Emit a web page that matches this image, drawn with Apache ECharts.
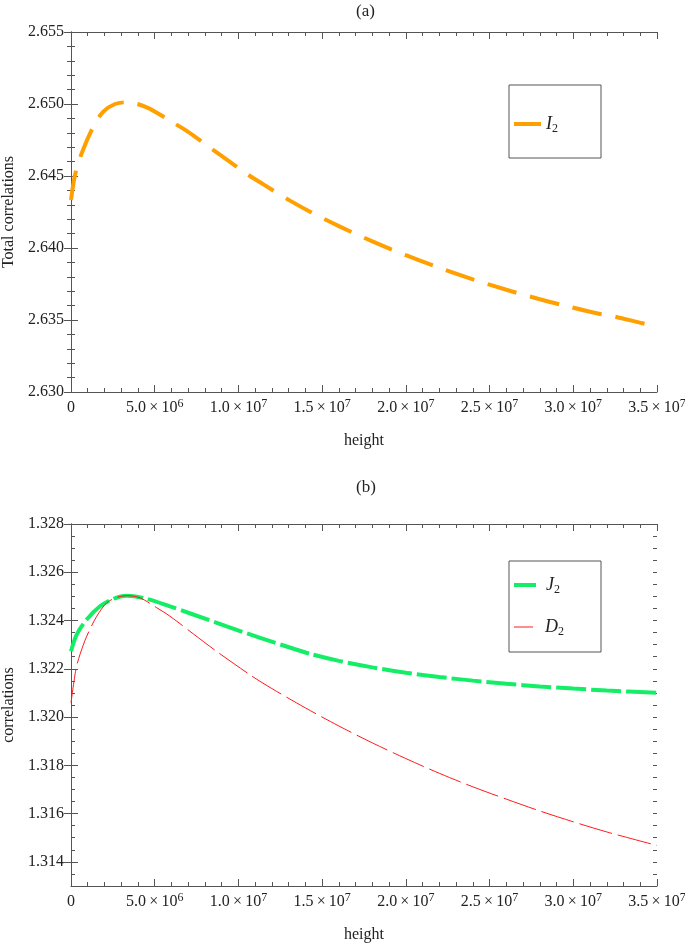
<!DOCTYPE html>
<html>
<head>
<meta charset="utf-8">
<script src="https://cdn.jsdelivr.net/npm/echarts@6/dist/echarts.min.js"></script>
<style>
    html, body { margin: 0; padding: 0; background: #fff; }
    #chart { width: 685px; height: 943px; }
</style>
</head>
<body>
<div id="chart"></div>
<script>
// (a) total correlations I2 against height
const heightI2 = [0, 0.24e6, 0.64e6, 1.33e6, 1.93e6, 2.63e6, 3.33e6, 4.52e6, 6.11e6, 6.91e6,
    8.41e6, 9.2e6, 10.69e6, 11.49e6, 13.08e6, 14.28e6, 16e6, 18e6, 20e6, 22e6,
    24e6, 26e6, 28e6, 29.6e6, 31.4e6, 32.3e6, 34.15e6, 35e6];
const valuesI2 = [2.64333, 2.64507, 2.64658, 2.64842, 2.64947, 2.65000, 2.65012, 2.64977, 2.64870, 2.64813,
    2.64688, 2.64623, 2.64500, 2.64442, 2.64329, 2.64252, 2.64152, 2.64046, 2.63950, 2.63862,
    2.63782, 2.63710, 2.63644, 2.63597, 2.63547, 2.63528, 2.63477, 2.63455];

// (b) correlations J2 and D2 against height
const heightJ2 = [0, 0.34e6, 0.94e6, 1.73e6, 2.53e6, 3.33e6, 4.52e6, 5.91e6, 7.3e6, 9.3e6,
    11.3e6, 13.3e6, 14.28e6, 16e6, 18e6, 20e6, 22e6, 24e6, 26e6, 28e6,
    30e6, 32e6, 35e6];
const valuesJ2 = [1.32273, 1.32342, 1.32404, 1.32459, 1.32490, 1.32503, 1.32490, 1.32459, 1.32425, 1.32376,
    1.32328, 1.32283, 1.32262, 1.32233, 1.32206, 1.32184, 1.32166, 1.32151, 1.32138, 1.32127,
    1.32118, 1.32110, 1.32101];

const heightD2 = [0, 0.3e6, 0.54e6, 0.94e6, 1.54e6, 2.13e6, 2.73e6, 3.33e6, 4.12e6, 5.12e6,
    5.91e6, 7.3e6, 8.7e6, 10.8e6, 12e6, 14e6, 16e6, 18e6, 20e6, 22e6,
    24e6, 26e6, 28e6, 30e6, 32e6, 35e6];
const valuesD2 = [1.32059, 1.32200, 1.32260, 1.32335, 1.32418, 1.32473, 1.32496, 1.32503, 1.32494, 1.32453,
    1.32418, 1.32345, 1.32272, 1.32170, 1.32118, 1.32038, 1.31963, 1.31893, 1.31828, 1.31767,
    1.31711, 1.31660, 1.31611, 1.31566, 1.31524, 1.31468];

// tick labels
const yTicksA = [2.630, 2.635, 2.640, 2.645, 2.650, 2.655];
const yTicksB = [1.314, 1.316, 1.318, 1.320, 1.322, 1.324, 1.326, 1.328];

const FONT = '"Liberation Serif", "Times New Roman", serif';
const FRAME = '#555';
const TEXT = '#222';

const toPoints = (xs, ys) => xs.map((x, i) => [x, ys[i]]);

// 5.0 × 10^6 style labels
function sciLabel(v) {
    if (v === 0) {
        return '{b|0}';
    }
    const exp = Math.floor(Math.log10(v) + 1e-9);
    const mant = (v / Math.pow(10, exp)).toFixed(1);
    return '{b|' + mant + '\u2009×\u200910}{p|' + exp + '}';
}

const sciRich = {
    b: {fontFamily: FONT, fontSize: 16, color: TEXT, lineHeight: 20},
    p: {fontFamily: FONT, fontSize: 12, color: TEXT, lineHeight: 12, verticalAlign: 'top'}
};

const legendRich = {
    i: {fontFamily: FONT, fontSize: 18, fontStyle: 'italic', color: TEXT, lineHeight: 22},
    s: {fontFamily: FONT, fontSize: 12, color: TEXT, lineHeight: 12, verticalAlign: 'bottom'}
};

const lineStyleOf = color => ({color: color, width: 1});

// bottom + top x axes of one panel
function xAxesFor(gridIndex) {
    const base = {
        type: 'value',
        gridIndex: gridIndex,
        min: 0,
        max: 3.5e7,
        interval: 5e6,
        axisLine: {show: true, onZero: false, lineStyle: lineStyleOf(FRAME)},
        axisTick: {show: true, inside: true, length: 7, lineStyle: lineStyleOf(FRAME)},
        minorTick: {show: true, splitNumber: 5, length: 4, lineStyle: lineStyleOf(FRAME)},
        splitLine: {show: false},
        minorSplitLine: {show: false}
    };
    return [
        Object.assign({}, base, {
            position: 'bottom',
            axisLabel: {margin: 6, formatter: sciLabel, rich: sciRich},
            name: 'height',
            nameLocation: 'middle',
            nameGap: 41,
            nameTextStyle: {fontFamily: FONT, fontSize: 16, color: TEXT}
        }),
        Object.assign({}, base, {
            position: 'top',
            axisLabel: {show: false}
        })
    ];
}

const yLabelStyle = {margin: 7, fontFamily: FONT, fontSize: 16, color: TEXT, formatter: v => v.toFixed(3)};
const yNameStyle = {fontFamily: FONT, fontSize: 16, color: TEXT};

// panel (a): ticks line up with interval from min
function yAxesA() {
    const base = {
        type: 'value',
        gridIndex: 0,
        min: 2.630,
        max: 2.655,
        interval: 0.005,
        axisLine: {show: true, lineStyle: lineStyleOf(FRAME)},
        axisTick: {show: true, inside: true, length: 7, lineStyle: lineStyleOf(FRAME)},
        minorTick: {show: true, splitNumber: 5, length: 4, lineStyle: lineStyleOf(FRAME)},
        splitLine: {show: false}
    };
    return [
        Object.assign({}, base, {
            position: 'left',
            axisLabel: Object.assign({}, yLabelStyle, {customValues: yTicksA}),
            name: 'Total correlations',
            nameLocation: 'middle',
            nameGap: 53,
            nameTextStyle: yNameStyle
        }),
        Object.assign({}, base, {position: 'right', axisLabel: {show: false}})
    ];
}

// panel (b): range starts at 1.313, so major ticks are placed explicitly
function yAxesB() {
    const base = {
        type: 'value',
        gridIndex: 1,
        min: 1.313,
        max: 1.328,
        splitLine: {show: false}
    };
    const major = Object.assign({}, base, {
        axisLine: {show: true, lineStyle: lineStyleOf(FRAME)},
        axisTick: {show: true, inside: true, length: 7, customValues: yTicksB, lineStyle: lineStyleOf(FRAME)}
    });
    const minor = Object.assign({}, base, {
        interval: 0.0005,
        axisLine: {show: false},
        axisTick: {show: true, inside: true, length: 4, lineStyle: lineStyleOf(FRAME)},
        axisLabel: {show: false}
    });
    return [
        Object.assign({}, major, {
            position: 'left',
            axisLabel: Object.assign({}, yLabelStyle, {customValues: yTicksB}),
            name: 'correlations',
            nameLocation: 'middle',
            nameGap: 53,
            nameTextStyle: yNameStyle
        }),
        Object.assign({}, major, {position: 'right', axisLabel: {show: false}}),
        Object.assign({}, minor, {position: 'left'}),
        Object.assign({}, minor, {position: 'right'})
    ];
}

// legend swatch is a plain bar as thick as the line; labels all start near x=545
function legendFor(name, top, itemWidth, itemHeight, textShift) {
    return {
        data: [{name: name, icon: 'rect'}],
        orient: 'vertical',
        left: 514,
        top: top,
        padding: 0,
        itemWidth: itemWidth,
        itemHeight: itemHeight,
        formatter: n => '{i|' + n.charAt(0) + '}{s|' + n.slice(1) + '}',
        textStyle: {rich: legendRich, padding: [0, 0, 0, textShift]}
    };
}

const boxStyle = {fill: 'none', stroke: FRAME, lineWidth: 1};
const titleStyle = {fontFamily: FONT, fontSize: 17, fontWeight: 'normal', color: TEXT};

const option = {
    animation: false,
    backgroundColor: '#fff',
    title: [
        {text: '(a)', left: 356, top: 3, padding: 0, textStyle: titleStyle},
        {text: '(b)', left: 356, top: 479, padding: 0, textStyle: titleStyle}
    ],
    grid: [
        {left: 71, right: 28, top: 32, bottom: 551, outerBoundsMode: 'none'},
        {left: 71, right: 28, top: 524, bottom: 57, outerBoundsMode: 'none'}
    ],
    xAxis: xAxesFor(0).concat(xAxesFor(1)),
    yAxis: yAxesA().concat(yAxesB()),
    legend: [
        legendFor('I2', 115, 27, 4, 0),
        legendFor('J2', 576, 22, 4, 5),
        legendFor('D2', 618, 19, 1, 7)
    ],
    graphic: [
        {type: 'rect', shape: {x: 509, y: 85, width: 92, height: 73}, style: boxStyle, silent: true},
        {type: 'rect', shape: {x: 509, y: 561, width: 92, height: 91}, style: boxStyle, silent: true}
    ],
    series: [
        {
            name: 'I2',
            type: 'line',
            xAxisIndex: 0,
            yAxisIndex: 0,
            data: toPoints(heightI2, valuesI2),
            smooth: 0.3,
            symbol: 'none',
            itemStyle: {color: '#ffa000'},
            lineStyle: {color: '#ffa000', width: 4, type: [30, 14], cap: 'butt'}
        },
        {
            name: 'J2',
            type: 'line',
            xAxisIndex: 2,
            yAxisIndex: 2,
            data: toPoints(heightJ2, valuesJ2),
            smooth: 0.3,
            symbol: 'none',
            itemStyle: {color: '#14ee66'},
            lineStyle: {color: '#14ee66', width: 4, type: [30, 5], cap: 'butt'}
        },
        {
            name: 'D2',
            type: 'line',
            xAxisIndex: 2,
            yAxisIndex: 2,
            data: toPoints(heightD2, valuesD2),
            smooth: 0.3,
            symbol: 'none',
            itemStyle: {color: '#ff1a1a'},
            lineStyle: {color: '#ff1a1a', width: 1, type: [34, 6], cap: 'butt'}
        }
    ]
};

const chart = echarts.init(document.getElementById('chart'));
chart.setOption(option);
</script>
</body>
</html>
